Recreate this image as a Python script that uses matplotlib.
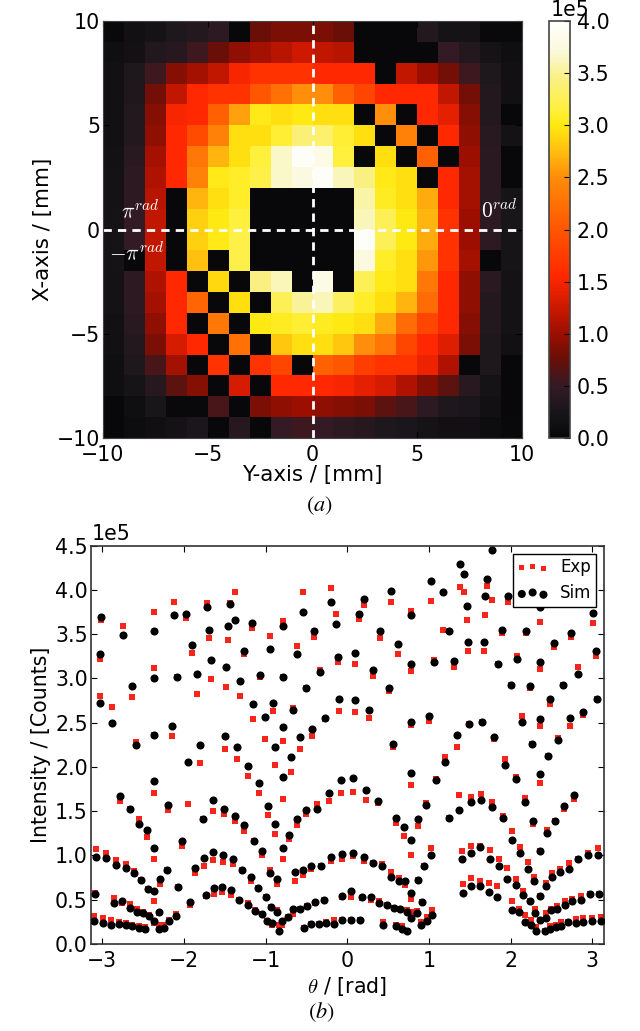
import matplotlib
matplotlib.use("Agg")
import matplotlib.pyplot as plt
import numpy as np
from matplotlib.colors import LinearSegmentedColormap

# Detector map, rows from X = +10 mm down to X = -10 mm, in units of 1e5 counts
rows = [
 [.02,.15,.20,.30,.35,.45,0,.75,.85,.85,.85,.75,0,0,0,.35,.20,.20,.03,.03],
 [.12,.17,.33,.38,.55,.75,.95,1.05,1.15,1.25,1.2,1.15,0,0,0,0,.50,.35,.20,.12],
 [.15,.30,.55,.90,1.05,1.2,1.5,1.65,1.65,1.65,1.55,1.55,1.55,0,1.2,1.0,.80,.55,.30,.15],
 [.15,.32,.80,1.2,1.55,1.65,1.65,2.0,2.25,2.5,2.5,2.1,1.85,1.55,1.55,1.55,1.2,.80,.35,.15],
 [.15,.35,.90,1.5,1.55,2.1,2.6,3.02,2.95,3.0,2.95,2.95,0,2.5,0,1.55,1.4,.90,.35,0],
 [.15,.35,.95,1.55,1.9,2.4,2.95,2.95,3.12,3.4,3.35,3.12,2.95,0,2.4,0,1.55,.95,.40,.18],
 [.17,.40,1.05,1.55,2.3,2.7,2.95,3.15,3.65,3.95,3.8,3.15,0,2.95,0,2.1,0,1.0,.42,0],
 [.18,.45,1.1,1.55,2.4,3.02,3.08,3.2,3.65,3.75,3.95,3.6,3.45,3.02,2.95,0,1.55,1.05,.42,0],
 [.18,.45,1.15,0,2.7,2.95,3.08,0,0,0,0,0,3.55,3.05,2.95,2.65,1.55,1.05,.42,.22],
 [.20,.50,1.2,0,2.85,3.0,3.15,0,0,0,0,0,3.6,3.25,3.0,2.7,1.65,1.0,.45,.25],
 [.20,.50,1.2,0,2.85,3.02,3.2,0,0,0,0,0,3.95,3.25,3.0,2.65,1.65,1.0,.45,.22],
 [.20,0,1.2,0,2.75,0,3.2,0,0,0,0,0,3.75,3.08,2.95,2.55,1.65,1.05,0,.22],
 [.18,.45,1.1,1.55,0,2.9,0,3.45,3.6,0,3.8,0,3.25,3.02,2.95,2.3,1.55,.95,.42,.18],
 [.18,.45,1.05,1.55,2.15,0,2.95,0,3.25,3.5,3.6,3.3,3.08,2.95,2.7,2.2,1.55,.95,.35,.18],
 [.15,.40,.95,1.55,0,2.3,0,3.0,3.05,3.12,3.05,3.0,2.95,2.65,2.2,1.85,1.55,.90,.35,.18],
 [.15,.35,.85,1.3,1.55,0,2.25,0,2.8,2.95,2.95,2.8,2.5,2.3,1.85,1.55,1.35,.85,.30,.15],
 [.12,.30,.60,1.05,0,1.65,0,1.65,1.85,0,2.1,2.0,1.75,1.65,1.65,1.45,1.1,0,.30,0],
 [.12,.22,.38,.70,.90,0,1.3,0,1.55,1.55,1.55,1.5,1.4,1.3,1.1,.90,.70,.40,.20,0],
 [0,.12,.25,.03,.03,.60,0,.85,.95,1.0,.95,.90,.85,.70,.60,.45,.30,.27,.15,0],
 [0,.08,.14,.18,.28,0,.38,0,.50,.55,.50,.45,.38,.30,.27,.20,.15,.15,.08,.02],
]
heat_ticks = [-10, -5, 0, 5, 10]
cbar_ticks = [0, .5, 1, 1.5, 2, 2.5, 3, 3.5, 4]
theta_ticks = [-3, -2, -1, 0, 1, 2, 3]
count_ticks = [0, .5, 1, 1.5, 2, 2.5, 3, 3.5, 4, 4.5]

# Line profile, theta in rad, counts in units of 1e5
theta = [
 -3.10,-2.99,-2.89,-2.80,-2.71,-2.63,-2.55,-2.48,-2.31,-2.24,-2.18,-2.10,
 -3.09,-2.86,-2.76,-2.66,-2.57,-2.50,-2.43,-2.37,-2.30,-1.93,-1.73,-1.63,-1.53,-1.42,-1.32,-1.22,-1.13,-1.05,-.98,-.92,-.84,-.80,-.73,-.66,-.58,-.49,-.39,-.29,-.06,.05,
 -.53,-.45,-.35,-.26,-.16,-.06,.04,.15,
 -3.08,-2.95,-2.83,-2.71,-2.61,-2.52,-2.44,-2.37,-2.29,-2.21,-2.07,-1.86,-1.75,-1.64,-1.52,-1.40,-1.29,-1.18,-1.09,-1.00,-.93,-.86,-.64,-.54,-.44,-.32,-.20,-.06,.07,
 -2.78,-2.66,-2.55,-2.45,-2.37,-2.37,-2.19,-2.02,-1.95,-1.80,-1.77,-1.64,-1.51,-1.38,-1.26,-1.14,-1.04,-.95,-.86,-.79,-.71,-.61,-.50,-.37,-.23,-.08,.07,
 -1.35,-1.21,-1.08,-.97,-.88,-.89,-.79,-.69,
 -3.01,-2.75,-2.36,-2.12,-1.98,-1.72,-1.43,-1.38,-1.46,-1.69,-1.90,-3.03,-2.36,-2.64,-2.88,-3.03,-2.14,-2.36,-2.58,-2.08,-1.84,-1.67,-1.49,-1.31,-1.26,-1.17,-.79,-.95,-1.07,-.79,-.62,-.54,-.41,-.20,-.14,-.11,-.33,-.51,-.10,-1.15,-1.01,-.91,-.67,-.79,-.58,-.43,-.27,-1.50,
 .09,.27,.51,.32,.10,.62,.40,.14,.20,.54,.78,.78,.78,1.00,.56,1.03,1.17,1.25,1.06,1.31,1.48,1.46,1.43,1.38,1.77,1.68,1.71,1.67,1.34,1.49,1.65,1.80,1.84,1.89,2.00,2.08,1.97,2.19,2.24,2.36,2.36,2.53,2.74,2.82,2.64,2.48,2.14,2.36,2.72,2.88,3.05,3.01,3.04,2.58,2.26,
 .44,.60,.67,.73,.90,.97,1.04,
 .18,.29,.39,.49,.57,.65,.73,.78,.85,.92,
 .20,.32,.43,.54,.63,.71,.78,.86,.94,1.03,
 .23,.37,.60,.70,.78,.78,.87,.96,1.08,1.20,
 1.42,1.52,1.62,1.73,1.83,1.40,1.51,1.63,1.75,1.86,1.96,2.06,2.15,2.23,2.29,2.36,2.43,2.51,2.60,2.71,2.82,2.95,3.07,
 1.25,1.37,1.51,1.64,1.77,1.90,2.01,2.11,2.21,2.27,2.36,2.44,2.54,2.65,2.77,
 2.02,2.10,2.18,2.25,2.31,2.30,2.36,2.43,2.49,2.57,2.66,2.75,2.86,2.97,3.08,
 2.42,2.48,2.55,2.62,2.70,2.80,2.89,2.99,3.10,
 1.93,2.06,2.18,2.36,2.46,
]
sim = [
 .26,.24,.21,.23,.21,.20,.18,.17,.17,.18,.26,.32,
 .56,.46,.49,.41,.36,.35,.32,.26,.36,.47,.55,.63,.64,.61,.50,.44,.37,.34,.26,.24,.15,.26,.31,.39,.40,.43,.47,.50,.54,.60,
 .18,.23,.23,.24,.23,.27,.27,.27,
 .98,.97,.89,.86,.80,.72,.62,.60,.73,.84,.64,.86,.97,1.04,1.00,.96,.83,.76,.63,.53,.42,.36,.81,.84,.88,.88,.98,1.02,1.03,
 1.67,1.53,1.35,1.29,1.08,1.84,1.57,1.16,2.05,2.25,1.41,1.63,1.53,1.44,1.34,1.16,1.05,.80,.73,1.08,1.23,1.41,1.51,1.53,1.70,1.85,1.87,
 2.23,2.01,1.82,1.56,1.35,2.22,1.89,2.11,
 3.69,3.49,3.54,3.71,3.73,3.80,3.84,3.66,3.59,3.55,3.38,3.28,3.00,2.91,2.49,2.72,2.46,2.36,2.25,3.01,3.05,3.21,3.13,2.97,3.31,3.63,3.59,3.33,3.04,3.02,3.27,3.75,3.54,3.86,3.61,3.24,3.07,2.89,2.77,2.71,2.56,2.72,2.64,2.45,2.34,2.43,2.55,2.35,
 2.76,2.64,2.89,3.09,3.29,3.39,3.54,3.73,3.90,3.99,3.71,3.16,2.51,2.58,2.26,4.10,3.98,3.53,3.19,3.20,3.41,3.82,4.18,4.29,4.45,3.93,4.12,3.41,2.36,2.48,2.51,2.34,3.16,3.55,2.92,3.22,3.93,3.54,2.91,3.80,3.19,3.40,3.51,3.05,2.92,2.77,2.51,2.54,2.55,2.62,2.77,3.74,3.31,2.30,2.26,
 .22,.20,.17,.15,.21,.26,.33,
 .53,.53,.46,.44,.41,.40,.36,.29,.35,.47,
 .98,.91,.88,.76,.71,.71,.58,.72,.88,1.00,
 1.74,1.61,1.42,1.32,1.17,1.93,1.41,1.57,1.85,2.06,
 .58,.66,.65,.59,.53,.96,1.03,1.09,.96,.88,.73,.67,.55,.49,.71,.54,.65,.76,.81,.85,.96,1.00,1.00,
 1.42,1.51,1.60,1.63,1.55,1.42,1.18,1.03,.85,1.39,1.05,1.25,1.39,1.56,1.68,
 .38,.36,.25,.21,.15,.35,.27,.29,.38,.40,.44,.49,.50,.57,.57,
 .15,.17,.19,.20,.25,.24,.25,.26,.26,
 2.02,1.86,1.60,1.92,2.12,
]
exp = [
 .32,.29,.27,.25,.24,.22,.20,.19,.21,.22,.27,.34,
 .58,.52,.46,.45,.40,.36,.33,.24,.35,.44,.54,.57,.59,.55,.50,.46,.38,.34,.26,.21,.21,.21,.31,.34,.40,.43,.46,.50,.53,.53,
 .18,.23,.23,.25,.27,.27,.27,.27,
 1.07,1.03,.95,.90,.82,.72,.62,.49,.68,.84,.64,.80,.88,.95,.93,.90,.83,.71,.63,.53,.42,.38,.71,.78,.85,.88,.94,.96,.99,
 1.61,1.53,1.41,1.21,.96,1.71,1.51,1.11,1.58,2.04,1.41,1.50,1.47,1.39,1.28,1.16,1.00,.84,.68,.96,1.19,1.34,1.47,1.58,1.61,1.70,1.72,
 2.09,1.90,1.71,1.46,1.24,2.02,1.64,1.94,
 3.66,3.59,3.75,3.86,3.68,3.85,3.85,3.98,3.43,3.46,3.29,3.22,3.12,2.79,2.68,2.80,2.35,2.36,2.28,3.01,2.82,2.99,2.90,2.80,3.28,3.57,3.65,3.48,3.01,3.02,3.37,3.98,3.47,4.02,3.73,3.19,3.09,2.89,2.63,2.54,2.31,2.63,2.67,2.29,2.20,2.35,2.54,2.20,
 2.62,2.55,2.86,3.03,3.16,3.28,3.45,3.67,3.83,3.86,3.76,3.08,2.47,2.52,2.23,3.87,3.55,3.53,3.21,3.13,3.31,3.66,3.97,4.03,3.89,3.72,4.04,3.31,2.22,2.48,2.51,2.32,3.16,3.51,2.93,3.25,3.86,3.51,2.89,3.64,3.10,3.35,3.47,3.13,2.92,2.71,2.57,2.46,2.46,2.59,2.77,3.63,3.25,2.33,2.26,
 .25,.21,.20,.15,.25,.31,.38,
 .52,.50,.49,.44,.41,.40,.38,.36,.37,.47,
 .94,.91,.90,.81,.75,.67,.51,.72,.88,1.08,
 1.63,1.59,1.37,1.22,1.00,1.80,1.33,1.59,1.86,2.11,
 .68,.74,.71,.69,.65,1.05,1.11,1.11,1.06,.96,.86,.73,.60,.49,.76,.54,.69,.80,.85,.92,.96,1.03,1.08,
 1.42,1.68,1.66,1.69,1.60,1.45,1.28,1.09,.93,1.35,1.05,1.29,1.39,1.53,1.64,
 .48,.40,.33,.27,.19,.40,.27,.35,.40,.43,.48,.51,.54,.57,.57,
 .15,.20,.22,.25,.25,.28,.29,.29,.31,
 2.09,1.89,1.65,1.82,2.12,
]

W, H = 640, 1031
plt.rcParams['mathtext.fontset'] = 'cm'
plt.rcParams['font.family'] = 'DejaVu Sans'
FS = 14.8


def rgb(r, g, b):
    return (r/255, g/255, b/255)


fire = LinearSegmentedColormap.from_list('fire', [
    (0/4, rgb(8, 8, 10)), (.25/4, rgb(25, 22, 26)),
    (.5/4, rgb(52, 26, 36)), (.75/4, rgb(105, 15, 8)),
    (1/4, rgb(155, 15, 0)), (1.25/4, rgb(205, 25, 0)),
    (1.55/4, rgb(255, 40, 0)), (2/4, rgb(255, 85, 0)),
    (2.5/4, rgb(255, 140, 10)), (2.75/4, rgb(255, 190, 15)),
    (3/4, rgb(255, 232, 15)), (3.15/4, rgb(255, 240, 60)),
    (3.45/4, rgb(250, 240, 130)), (3.7/4, rgb(250, 248, 215)),
    (4/4, rgb(255, 255, 255))])

fig = plt.figure(figsize=(W/100, H/100), dpi=100, facecolor='white')


def box(left, top, right, bottom):
    return [left/W, 1-bottom/H, (right-left)/W, (bottom-top)/H]


# (a) detector map
ax = fig.add_axes(box(103, 21, 522, 438))
data = np.array(rows)
edges = np.linspace(-10, 10, data.shape[1]+1)
mesh = ax.pcolormesh(edges, edges[::-1], data, cmap=fire, vmin=0, vmax=4, shading='flat')
ax.axvline(0, color='white', lw=2, dashes=(3, 2.2))
ax.axhline(0, color='white', lw=2, dashes=(3, 2.2))
ax.set_xlim(-10, 10)
ax.set_ylim(-10, 10)
ax.set_xticks(heat_ticks)
ax.set_yticks(heat_ticks)
ax.tick_params(direction='in', length=4, width=.8, labelsize=FS, pad=5, top=True, right=True)
ax.tick_params(axis='y', pad=2)
ax.set_xlabel('Y-axis / [mm]', fontsize=15.4, labelpad=0)
ax.set_ylabel('X-axis / [mm]', fontsize=15.4, labelpad=3)
for x, y, s in [(-8.2, .9, r'$\pi^{rad}$'), (8.9, .9, r'$0^{rad}$'), (-8.4, -1.1, r'$-\pi^{rad}$')]:
    ax.text(x, y, s, color='white', fontsize=15.5, ha='center', va='center')
for sp in ax.spines.values():
    sp.set_color('#444444')

cax = fig.add_axes(box(549, 21, 570, 438))
cb = fig.colorbar(mesh, cax=cax, ticks=cbar_ticks)
cb.ax.set_yticklabels([f'{t:.1f}' for t in cbar_ticks])
cb.ax.tick_params(direction='in', length=4, width=.8, labelsize=FS, pad=5)
cb.outline.set_edgecolor('#444444')
cb.outline.set_linewidth(1.2)
cax.text(0.1, 1.002, '1e5', transform=cax.transAxes, fontsize=FS, ha='left', va='bottom')

fig.text(319.5/W, 1-506/H, r'$(a)$', fontsize=16, ha='center', va='center', math_fontfamily='stix')

# (b) line profile
ax2 = fig.add_axes(box(90.6, 545.5, 604, 944))
ax2.scatter(theta, exp, s=14, marker='s', color='#f5251b', linewidths=0, label='Exp', zorder=2)
ax2.scatter(theta, sim, s=34, marker='o', color='black', linewidths=0, label='Sim', zorder=3)
ax2.set_xlim(-np.pi, np.pi)
ax2.set_ylim(0, 4.5)
ax2.set_xticks(theta_ticks)
ax2.set_yticks(count_ticks)
ax2.set_yticklabels([f'{t:.1f}' for t in count_ticks])
ax2.tick_params(direction='in', length=4, width=.8, labelsize=FS, pad=5, top=True, right=True)
ax2.tick_params(axis='y', pad=2)
ax2.set_xlabel(r'$\theta$ / [rad]', fontsize=FS, labelpad=3)
ax2.set_ylabel('Intensity / [Counts]', fontsize=FS, labelpad=3)
for sp in ax2.spines.values():
    sp.set_color('#333333')
    sp.set_linewidth(1.2)
ax2.text(0.002, 1.004, '1e5', transform=ax2.transAxes, fontsize=FS, ha='left', va='bottom')
leg = ax2.legend(loc='upper right', scatterpoints=3, fontsize=12, fancybox=False,
                 framealpha=1, edgecolor='black', borderaxespad=.5, handletextpad=.7,
                 labelspacing=.5, borderpad=.25, handlelength=1.9)
leg.get_frame().set_linewidth(1)
leg.set_zorder(5)

fig.text(321/W, 1-1012/H, r'$(b)$', fontsize=16, ha='center', va='center', math_fontfamily='stix')

fig.savefig('out.png', dpi=100)
